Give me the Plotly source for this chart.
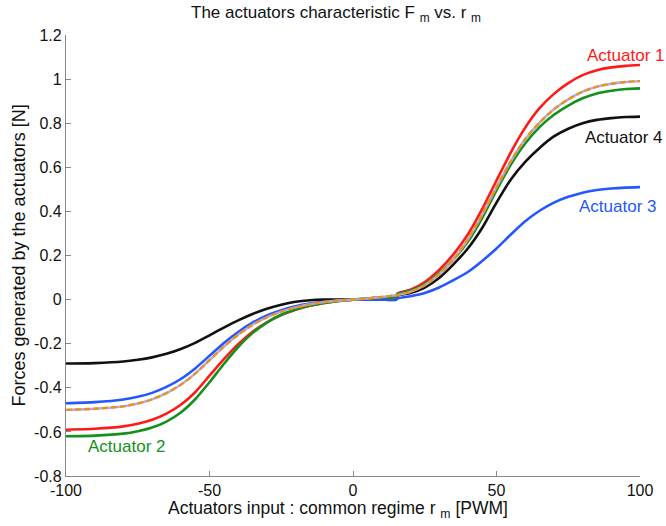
import plotly.graph_objects as go

# PWM input (common regime r_m); the 15/15.5 pair carries the small step near +15
r_pwm = [-100, -90, -80, -75, -70, -65, -60, -55, -50, -45, -40, -35, -30, -25, -20, -15,
         -10, -5, 0, 5, 10, 15, 15.5, 20, 25, 30, 35, 40, 45, 50, 55, 60, 65, 70,
         75, 80, 85, 90, 95, 100]

# Forces [N] per actuator
act1 = [-0.590, -0.586, -0.575, -0.563, -0.545, -0.517, -0.477, -0.420, -0.345, -0.270,
        -0.202, -0.146, -0.103, -0.070, -0.046, -0.028, -0.015, -0.006,
        0.000, 0.005, 0.010, 0.012, 0.028, 0.045, 0.080, 0.135, 0.205, 0.295, 0.410,
        0.540, 0.668, 0.780, 0.868, 0.933, 0.982, 1.018, 1.040, 1.053, 1.060, 1.064]
act2 = [-0.620, -0.617, -0.608, -0.597, -0.580, -0.553, -0.512, -0.452, -0.375, -0.292,
        -0.215, -0.152, -0.104, -0.069, -0.045, -0.027, -0.015, -0.006,
        0.000, 0.005, 0.010, 0.012, 0.026, 0.040, 0.070, 0.120, 0.182, 0.262, 0.370,
        0.495, 0.612, 0.708, 0.782, 0.838, 0.880, 0.913, 0.935, 0.947, 0.955, 0.958]
act3 = [-0.470, -0.465, -0.453, -0.441, -0.423, -0.396, -0.360, -0.312, -0.255, -0.197,
        -0.147, -0.105, -0.072, -0.048, -0.030, -0.018, -0.010, -0.004,
        0.000, 0.000, 0.000, 0.000, 0.005, 0.015, 0.030, 0.055, 0.088, 0.125, 0.175,
        0.232, 0.295, 0.355, 0.403, 0.440, 0.466, 0.485, 0.497, 0.504, 0.508, 0.510]
act4 = [-0.290, -0.288, -0.281, -0.273, -0.262, -0.246, -0.224, -0.196, -0.162, -0.127,
        -0.094, -0.065, -0.041, -0.023, -0.010, -0.003, 0.000, 0.000,
        0.000, 0.000, 0.000, 0.000, 0.018, 0.030, 0.055, 0.098, 0.160, 0.232, 0.325,
        0.440, 0.545, 0.625, 0.688, 0.740, 0.775, 0.800, 0.815, 0.823, 0.828, 0.830]
mean_fit = [-0.500, -0.495, -0.484, -0.471, -0.452, -0.424, -0.386, -0.336, -0.275, -0.213,
            -0.159, -0.114, -0.080, -0.054, -0.035, -0.021, -0.011, -0.004,
            0.000, 0.005, 0.012, 0.020, 0.021, 0.035, 0.065, 0.115, 0.182, 0.272, 0.385,
            0.510, 0.628, 0.728, 0.803, 0.863, 0.908, 0.943, 0.966, 0.979, 0.987, 0.991]

x_ticks = [-100, -50, 0, 50, 100]
x_tick_text = ["-100", "-50", "0", "50", "100"]
y_ticks = [-0.8, -0.6, -0.4, -0.2, 0, 0.2, 0.4, 0.6, 0.8, 1, 1.2]
y_tick_text = ["-0.8", "-0.6", "-0.4", "-0.2", "0", "0.2", "0.4", "0.6", "0.8", "1", "1.2"]

FONT = "Liberation Sans, Arial, sans-serif"
INK = "#111111"

fig = go.Figure()


def curve(y, color, width=2.6, dash="solid"):
    fig.add_trace(go.Scatter(
        x=r_pwm, y=y, mode="lines",
        line=dict(color=color, width=width, dash=dash, shape="spline", smoothing=0.6),
        showlegend=False, hoverinfo="skip"))


curve(act4, "#111111")
curve(act3, "#2457ff")
curve(act1, "#ff1a1a")
curve(act2, "#14901c")
# mean characteristic: lavender line under an orange dashed line
curve(mean_fit, "#a9aef0", width=2.4)
curve(mean_fit, "#ee9020", width=2.4, dash="6px,3px")

# curve labels
labels = [
    ("Actuator 1", 81.0, 1.109, "#ff1a1a"),
    ("Actuator 4", 80.0, 0.737, "#111111"),
    ("Actuator 3", 78.0, 0.424, "#2457ff"),
    ("Actuator 2", -93.0, -0.664, "#14901c"),
]
for text, lx, ly, col in labels:
    fig.add_annotation(x=lx, y=ly, text=text, showarrow=False, xanchor="left",
                       yanchor="middle", font=dict(family=FONT, size=17, color=col))

# title and axis titles
fig.add_annotation(xref="paper", yref="paper", x=0.470, y=1, yshift=21,
                   text="The actuators characteristic F <sub>m</sub> vs. r <sub>m</sub>",
                   showarrow=False, xanchor="center", yanchor="middle",
                   font=dict(family=FONT, size=17, color=INK))
fig.add_annotation(xref="paper", yref="paper", x=0.474, y=0, yshift=-33,
                   text="Actuators input : common regime r <sub>m</sub> [PWM]",
                   showarrow=False, xanchor="center", yanchor="middle",
                   font=dict(family=FONT, size=17.5, color=INK))
fig.add_annotation(xref="paper", yref="paper", x=0, xshift=-48, y=0.5,
                   text="Forces generated by the actuators [N]", textangle=-90,
                   showarrow=False, xanchor="center", yanchor="middle",
                   font=dict(family=FONT, size=18, color=INK))

axis_common = dict(ticks="inside", ticklen=5, tickcolor="#888888", showline=True,
                   linecolor="#888888", linewidth=1.2, showgrid=False, zeroline=False,
                   tickfont=dict(family=FONT, size=16, color=INK))

fig.update_layout(
    width=666, height=526,
    margin=dict(l=66, r=26, t=35, b=50),
    paper_bgcolor="white", plot_bgcolor="white",
    font=dict(family=FONT, size=17, color=INK),
    xaxis=dict(range=[-100, 100], tickvals=x_ticks, ticktext=x_tick_text, **axis_common),
    yaxis=dict(range=[-0.8, 1.2], tickvals=y_ticks, ticktext=y_tick_text, **axis_common),
)

fig.write_html("out.html")
